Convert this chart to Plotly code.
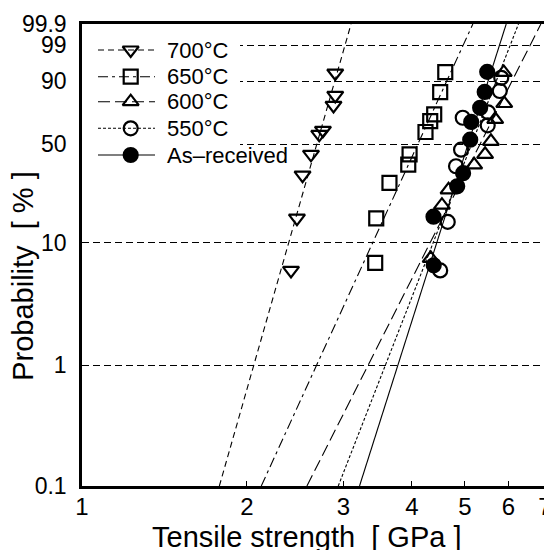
import numpy as np
import plotly.graph_objects as go

# ---- data ----
series = ["700°C", "650°C", "600°C", "550°C", "As–received"]

s700 = [2.899, 2.899, 2.878, 2.753, 2.710, 2.618, 2.527, 2.468, 2.407]
p700 = [93.3, 82.8, 76.7, 59.5, 56.7, 43.5, 31.8, 15.5, 6.0]
s650 = [4.603, 4.506, 4.394, 4.321, 4.236, 3.962, 3.940, 3.641, 3.444, 3.429]
p650 = [93.6, 84.7, 70.6, 66.0, 58.3, 43.5, 37.4, 28.1, 15.4, 6.9]
s600 = [5.886, 5.898, 5.678, 5.577, 5.442, 5.198, 4.667, 4.539, 4.330]
p600 = [93.5, 77.9, 67.2, 51.9, 43.5, 37.3, 25.1, 19.4, 7.5]
s550 = [5.824, 5.788, 5.513, 5.502, 4.954, 4.919, 4.816, 4.651, 4.506]
p550 = [91.5, 85.3, 72.0, 63.0, 68.3, 46.4, 36.5, 14.5, 6.0]
sar = [5.490, 5.433, 5.330, 5.133, 5.112, 4.961, 4.840, 4.381, 4.385]
par = [93.7, 84.8, 75.1, 65.4, 53.0, 32.8, 26.6, 15.9, 6.6]

# Weibull fit lines: shape m and scale sigma0 [GPa]
fit_shape = [15.97, 9.94, 8.99, 11.67, 14.34]
fit_scale = [2.745, 4.256, 5.549, 5.306, 5.197]

prob_ticks = [0.1, 1, 10, 50, 90, 99, 99.9]
prob_ticktext = ["0.1", "1", "10", "50", "90", "99", "99.9"]
x_ticks = [1, 2, 3, 4, 5, 6, 7]

# ---- styles ----
symbols = ["triangle-down-open", "square-open", "triangle-up-open", "circle-open", "circle"]
dashes = ["6px,4px", "10px,4px,3px,4px", "12px,5px", "3px,2px", "solid"]
FONT = "Liberation Sans, Arial, sans-serif"
MSIZE = 14

# the page body has an 8px margin, so the figure starts at (8, 8) in the window
W, H = 552, 550
ML, MR, MT, MB = 74, 15, 16, 72
PW, PH = W - ML - MR, H - MT - MB


def weib(p_percent):
    p = np.asarray(p_percent, dtype=float) / 100.0
    return np.log(-np.log(1.0 - p))


strengths = [s700, s650, s600, s550, sar]
probs = [p700, p650, p600, p550, par]

ymin = float(weib(prob_ticks[0]))
ymax = float(weib(prob_ticks[-1]))

fig = go.Figure()

for i, name in enumerate(series):
    m, s0 = fit_shape[i], fit_scale[i]
    yl = np.array([ymin, ymax])
    xl = s0 * np.exp(yl / m)
    fig.add_trace(go.Scatter(
        x=xl, y=yl, mode="lines",
        line=dict(color="black", width=1.1, dash=dashes[i]),
        showlegend=False, hoverinfo="skip"))
    fig.add_trace(go.Scatter(
        x=strengths[i], y=weib(probs[i]), mode="markers", name=name,
        marker=dict(symbol=symbols[i], size=MSIZE, color="black",
                    line=dict(color="black", width=2.2)),
        showlegend=False))

# ---- legend, drawn on an overlay axis measured in pixels from the plot's top-left ----
leg_box = dict(w=158, h=143)
leg_rows = [26, 52.7, 77.7, 104.3, 131]
leg_line = (16, 73)
leg_mark = 48.7
leg_text = 83

fig.add_trace(go.Scatter(
    x=[0, leg_box["w"], leg_box["w"], 0, 0], y=[0, 0, leg_box["h"], leg_box["h"], 0],
    mode="lines", fill="toself", fillcolor="white", line=dict(width=0, color="white"),
    xaxis="x2", yaxis="y2", showlegend=False, hoverinfo="skip"))
for i, name in enumerate(series):
    ry = leg_rows[i]
    fig.add_trace(go.Scatter(
        x=list(leg_line), y=[ry, ry], mode="lines",
        line=dict(color="black", width=1.1, dash=dashes[i]),
        xaxis="x2", yaxis="y2", showlegend=False, hoverinfo="skip"))
    fig.add_trace(go.Scatter(
        x=[leg_mark], y=[ry], mode="markers",
        marker=dict(symbol=symbols[i], size=MSIZE, color="black",
                    line=dict(color="black", width=2.2)),
        xaxis="x2", yaxis="y2", showlegend=False, hoverinfo="skip"))
    fig.add_annotation(x=leg_text, y=ry, xref="x2", yref="y2", text=name,
                       showarrow=False, xanchor="left", yanchor="middle",
                       font=dict(size=22, family=FONT, color="black"))

fig.update_layout(
    width=W, height=H,
    margin=dict(l=ML, r=MR, t=MT, b=MB, autoexpand=False),
    paper_bgcolor="white", plot_bgcolor="white",
    font=dict(family=FONT, size=22, color="black"),
    showlegend=False,
    xaxis2=dict(overlaying="x", anchor="y2", range=[0, PW], visible=False, fixedrange=True),
    yaxis2=dict(overlaying="y", anchor="x2", range=[PH, 0], visible=False, fixedrange=True),
)

fig.layout.xaxis.update(
    type="log", range=[0, np.log10(7)], automargin=False,
    tickvals=x_ticks, ticktext=[str(v) for v in x_ticks],
    ticks="inside", ticklen=5, tickwidth=1.2, tickcolor="black",
    showgrid=False, zeroline=False,
    showline=True, linecolor="black", linewidth=2.5, mirror=True,
    tickfont=dict(size=24), ticklabelstandoff=-3,
)
fig.layout.yaxis.update(
    range=[ymin, ymax], automargin=False,
    tickvals=list(weib(prob_ticks)), ticktext=prob_ticktext,
    ticks="", showgrid=True, gridcolor="black", gridwidth=1.2,
    griddash="7px,4px", zeroline=False,
    showline=True, linecolor="black", linewidth=2.5, mirror=True,
    tickfont=dict(size=23), ticklabelstandoff=8,
)

# axis titles as annotations (positioned as in the reference)
fig.add_annotation(text="Tensile strength  [ GPa ]", xref="paper", yref="paper",
                   x=0.485, y=-0.11, showarrow=False, xanchor="center", yanchor="middle",
                   font=dict(size=29, family=FONT, color="black"))
fig.add_annotation(text="Probability  [ % ]", xref="paper", yref="paper",
                   x=-0.128, y=0.4544, showarrow=False, xanchor="center", yanchor="middle",
                   textangle=-90, font=dict(size=29, family=FONT, color="black"))

fig.write_html("out.html")
